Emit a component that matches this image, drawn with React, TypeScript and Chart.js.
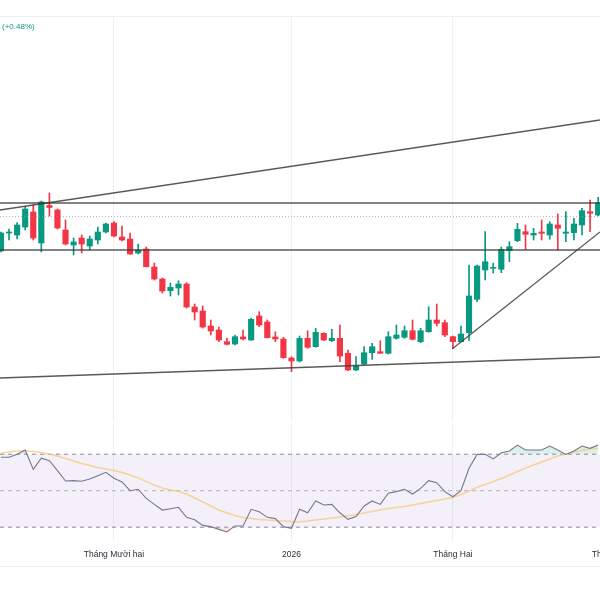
import React, { useEffect, useRef } from "react";
import { Chart, registerables } from "chart.js";
Chart.register(...registerables);

// ---- Candles (daily) ----
const opens = [
  34.9, 36.7, 36.5, 37.3, 38.8, 35.7, 39.45, 39.0, 37.0, 35.5,
  36.2, 35.4, 36.0, 36.8, 37.7, 36.3, 36.1, 34.7, 35.1, 33.3,
  32.1, 30.93, 31.2, 31.6, 29.3, 28.9, 27.4, 27.0, 25.83, 25.6,
  26.3, 26.0, 28.4, 27.8, 26.3, 26.1, 24.2, 23.9, 26.17, 25.33,
  26.67, 25.93, 26.17, 24.67, 23.0, 23.6, 24.73, 24.83, 24.67, 26.17,
  26.27, 26.93, 25.83, 26.83, 28.0, 27.73, 26.33, 25.83, 26.73, 30.07,
  33.0, 33.17, 33.07, 34.93, 35.93, 36.83, 36.5, 36.8, 36.5, 37.5,
  36.67, 36.73, 37.5, 38.83, 38.5,
];
const highs = [
  36.8, 37.1, 37.73, 39.33, 39.5, 39.9, 40.7, 39.1, 38.0, 36.2,
  36.5, 36.4, 37.3, 37.7, 37.83, 37.4, 36.7, 35.6, 35.3, 33.7,
  32.2, 31.7, 31.93, 31.73, 29.6, 29.4, 28.0, 27.3, 26.2, 26.5,
  27.0, 28.2, 28.83, 28.0, 26.83, 26.27, 24.33, 26.4, 26.93, 27.17,
  26.73, 27.07, 27.5, 25.0, 24.33, 25.33, 25.67, 25.93, 26.83, 27.5,
  27.4, 28.0, 27.17, 29.33, 29.6, 28.0, 26.4, 27.4, 33.5, 33.5,
  36.83, 33.7, 35.3, 35.83, 37.67, 37.5, 37.17, 38.0, 37.83, 38.6,
  38.83, 38.17, 39.17, 40.0, 40.27,
];
const lows = [
  34.8, 36.0, 36.1, 37.0, 36.0, 34.8, 38.4, 37.1, 35.5, 34.5,
  34.7, 35.0, 35.6, 36.7, 36.3, 35.9, 34.55, 34.6, 33.3, 32.0,
  30.7, 30.4, 30.5, 29.2, 28.0, 27.2, 26.5, 25.83, 25.5, 25.5,
  26.0, 25.95, 27.33, 26.2, 25.83, 24.17, 22.83, 23.8, 25.17, 25.27,
  25.93, 25.83, 23.83, 22.93, 22.93, 23.5, 24.07, 24.67, 24.6, 26.07,
  26.17, 26.0, 25.73, 26.77, 27.4, 26.33, 25.17, 25.8, 25.93, 29.83,
  32.0, 32.7, 32.73, 33.83, 35.83, 35.07, 36.0, 36.0, 36.07, 35.0,
  35.83, 36.0, 36.5, 36.83, 38.4,
];
const closes = [
  36.7, 36.8, 37.5, 39.1, 36.2, 39.8, 39.25, 37.2, 35.6, 35.8,
  35.6, 36.1, 36.8, 37.6, 36.4, 36.0, 34.6, 35.0, 33.33, 32.1,
  30.9, 31.27, 31.6, 29.3, 28.8, 27.3, 26.9, 26.0, 25.57, 26.33,
  26.1, 28.07, 27.5, 26.23, 26.1, 24.23, 23.9, 26.17, 25.27, 26.77,
  26.0, 26.17, 24.4, 23.0, 23.4, 24.73, 25.33, 24.67, 26.33, 26.5,
  26.93, 26.07, 26.93, 28.0, 27.67, 26.5, 25.83, 26.6, 30.4, 33.4,
  33.83, 33.27, 35.07, 35.33, 37.07, 36.57, 36.67, 36.67, 37.6, 37.17,
  36.8, 37.6, 38.93, 38.67, 39.73,
];

// ---- RSI pane ----
const rsiValues = [
  68.3, 68.3, 70.0, 72.3, 61.7, 67.8, 66.4, 61.0, 55.3, 55.5,
  55.2, 56.4, 58.2, 60.1, 56.8, 54.8, 50.0, 50.8, 45.8, 42.5,
  39.4, 40.1, 40.9, 35.4, 34.1, 31.0, 30.3, 28.8, 27.4, 30.7,
  30.7, 39.8, 38.5, 35.4, 34.7, 30.3, 29.4, 39.8, 37.9, 44.4,
  42.2, 42.5, 37.9, 34.3, 35.8, 41.6, 44.4, 42.5, 48.6, 49.5,
  50.8, 48.2, 51.3, 55.5, 54.4, 49.5, 46.7, 50.0, 62.3, 69.9,
  69.9, 67.4, 70.8, 71.8, 75.0, 72.3, 72.3, 72.3, 74.5, 72.3,
  69.9, 71.8, 74.5, 73.2, 75.0,
];
const rsiMA = [
  70.7, 71.2, 71.8, 71.9, 71.5, 70.9, 70.1, 69.0, 67.6, 66.3,
  64.9, 63.8, 62.7, 61.9, 61.1, 60.0, 58.6, 57.0, 55.0, 53.1,
  51.5, 50.4, 49.6, 48.2, 46.0, 43.8, 41.6, 39.4, 37.8, 36.4,
  35.3, 34.8, 34.2, 33.9, 33.7, 33.4, 33.1, 32.8, 33.4, 33.9,
  34.5, 35.0, 35.6, 36.1, 37.0, 37.8, 38.6, 39.4, 40.2, 40.8,
  41.3, 42.2, 43.0, 43.8, 44.6, 45.5, 46.3, 47.9, 49.8, 51.8,
  53.4, 55.0, 56.7, 58.6, 60.5, 62.4, 64.1, 65.7, 67.4, 69.0,
  70.1, 71.2, 72.0, 72.8, 73.4,
];
const rsiLevels = [70, 50, 30];

// ---- Time axis ----
const xTickValues = [14, 36, 56, 75.5];
const xTickLabels = ["Tháng Mười hai", "2026", "Tháng Hai", "Tháng Ba"];
const X_MIN = -0.12;
const X_MAX = 74.23;

// ---- Drawings (bar index, price) ----
const resistanceLevel = 39.7;
const supportLevel = 35.0;
const dottedLevel = 38.33;
const upperTrendX = [-0.12, 74.23];
const upperTrendY = [39.0, 48.0];
const lowerTrendX = [-0.12, 74.23];
const lowerTrendY = [22.2, 24.3];
const risingTrendX = [55.9, 74.23];
const risingTrendY = [25.1, 36.8];

const PRICE_MIN = 17.8;
const PRICE_MAX = 58.3;
const RSI_MIN = 22.44;
const RSI_MAX = 86.55;

const UP = "#089981";
const DOWN = "#F23645";
const GRID = "#eef1f6";

const pts = (xs: number[], ys: number[]) => xs.map((x, k) => ({ x, y: ys[k] }));

const xAxis = () => ({
  type: "linear" as const,
  min: X_MIN,
  max: X_MAX,
  bounds: "data" as const,
  offset: false,
  display: true,
  afterBuildTicks: (scale: any) => {
    scale.ticks = xTickValues.map((v) => ({ value: v }));
  },
  ticks: { display: false },
  grid: { display: true, offset: false, color: GRID, lineWidth: 1, drawTicks: false },
  border: { display: false },
});

const xLabelsPlugin = {
  id: "xLabels",
  afterDraw(chart: any) {
    const { ctx, chartArea, scales } = chart;
    ctx.save();
    ctx.font = '8.5px "Liberation Sans", Arial, sans-serif';
    ctx.fillStyle = "#2a2e39";
    ctx.textAlign = "center";
    ctx.textBaseline = "middle";
    xTickValues.forEach((v, k) => {
      ctx.fillText(xTickLabels[k], scales.x.getPixelForValue(v), chartArea.bottom + 14);
    });
    ctx.strokeStyle = "#eef0f4";
    ctx.lineWidth = 1;
    ctx.beginPath();
    ctx.moveTo(0, chartArea.bottom + 25.5);
    ctx.lineTo(chart.width, chartArea.bottom + 25.5);
    ctx.stroke();
    ctx.restore();
  },
};

export default function App() {
  const mainRef = useRef<HTMLCanvasElement>(null);
  const rsiRef = useRef<HTMLCanvasElement>(null);

  useEffect(() => {
    document.body.style.margin = "0";
    const idx = opens.map((_, i) => i);
    const colors = idx.map((i) => (closes[i] >= opens[i] ? UP : DOWN));
    const lineDs = (data: any[], color: string, width: number, dash: number[] = []) => ({
      type: "line" as const,
      data,
      borderColor: color,
      borderWidth: width,
      borderDash: dash,
      pointRadius: 0,
      fill: false,
      tension: 0,
      order: 0,
    });

    const main = new Chart(mainRef.current!, {
      type: "bar",
      data: {
        datasets: [
          lineDs(pts(upperTrendX, upperTrendY), "rgba(60,60,60,0.85)", 1.3) as any,
          lineDs(pts(lowerTrendX, lowerTrendY), "rgba(60,60,60,0.85)", 1.3) as any,
          lineDs(pts(risingTrendX, risingTrendY), "rgba(60,60,60,0.85)", 1.3) as any,
          lineDs(pts([X_MIN, X_MAX], [resistanceLevel, resistanceLevel]), "rgba(60,60,60,0.85)", 1.3) as any,
          lineDs(pts([X_MIN, X_MAX], [supportLevel, supportLevel]), "rgba(60,60,60,0.85)", 1.3) as any,
          lineDs(pts([X_MIN, X_MAX], [dottedLevel, dottedLevel]), "rgba(150,152,161,0.8)", 1, [1, 2]) as any,
          {
            type: "bar",
            data: idx.map((i) => ({ x: i, y: [opens[i], closes[i]] })),
            backgroundColor: colors,
            borderWidth: 0,
            barThickness: 5.5,
            minBarLength: 1,
            grouped: false,
            order: 1,
          } as any,
          {
            type: "bar",
            data: idx.map((i) => ({ x: i, y: [lows[i], highs[i]] })),
            backgroundColor: colors,
            borderWidth: 0,
            barThickness: 1,
            grouped: false,
            order: 2,
          } as any,
        ],
      },
      options: {
        responsive: false,
        animation: false,
        maintainAspectRatio: false,
        layout: { padding: 0 },
        plugins: { legend: { display: false }, tooltip: { enabled: false } },
        scales: {
          x: xAxis() as any,
          y: { type: "linear", min: PRICE_MIN, max: PRICE_MAX, display: false },
        },
      },
    });

    const rsiPts = idx.map((i) => ({ x: i, y: rsiValues[i] }));
    const maPts = idx.map((i) => ({ x: i, y: rsiMA[i] }));
    const levelLine = (v: number, color: string, fill: any, bg: string) => ({
      data: pts([X_MIN, X_MAX], [v, v]),
      borderColor: color,
      borderWidth: 1,
      borderDash: [4, 4],
      pointRadius: 0,
      fill,
      backgroundColor: bg,
      order: 5,
    });

    const rsi = new Chart(rsiRef.current!, {
      type: "line",
      data: {
        datasets: [
          levelLine(rsiLevels[0], "rgba(120,123,134,0.85)", "+1", "rgba(126,87,194,0.09)") as any,
          levelLine(rsiLevels[2], "rgba(120,123,134,0.85)", false, "transparent") as any,
          levelLine(rsiLevels[1], "rgba(120,123,134,0.5)", false, "transparent") as any,
          {
            data: rsiPts,
            borderWidth: 0,
            borderColor: "transparent",
            pointRadius: 0,
            fill: { target: { value: 70 }, above: "rgba(8,153,129,0.15)", below: "rgba(0,0,0,0)" },
            order: 4,
          } as any,
          {
            data: rsiPts,
            borderWidth: 0,
            borderColor: "transparent",
            pointRadius: 0,
            fill: { target: { value: 30 }, above: "rgba(0,0,0,0)", below: "rgba(242,54,69,0.15)" },
            order: 4,
          } as any,
          {
            data: maPts,
            borderColor: "rgba(246,200,120,0.75)",
            borderWidth: 1.5,
            pointRadius: 0,
            fill: false,
            order: 1,
          } as any,
          {
            data: rsiPts,
            borderColor: "#77778f",
            borderWidth: 1.1,
            pointRadius: 0,
            fill: false,
            order: 0,
          } as any,
        ],
      },
      options: {
        responsive: false,
        animation: false,
        maintainAspectRatio: false,
        layout: { padding: { top: 2, bottom: 59, left: 0, right: 0 } },
        plugins: {
          legend: { display: false },
          tooltip: { enabled: false },
          filler: { drawTime: "beforeDatasetsDraw" },
        } as any,
        scales: {
          x: xAxis() as any,
          y: { type: "linear", min: RSI_MIN, max: RSI_MAX, display: false },
        },
      },
      plugins: [xLabelsPlugin],
    });

    return () => {
      main.destroy();
      rsi.destroy();
    };
  }, []);

  return (
    <div style={{ position: "relative", width: 600, height: 600, background: "#fff", overflow: "hidden" }}>
      <div style={{ position: "absolute", left: 0, top: 16, width: 600, height: 1, background: "#eef0f4" }} />
      <canvas ref={mainRef} width={600} height={405} style={{ position: "absolute", left: 0, top: 17 }} />
      <canvas ref={rsiRef} width={600} height={178} style={{ position: "absolute", left: 0, top: 422 }} />
      <div
        style={{
          position: "absolute",
          left: 2,
          top: 22,
          font: '8px "Liberation Sans", Arial, sans-serif',
          color: "#089981",
        }}
      >
        (+0.48%)
      </div>
    </div>
  );
}
